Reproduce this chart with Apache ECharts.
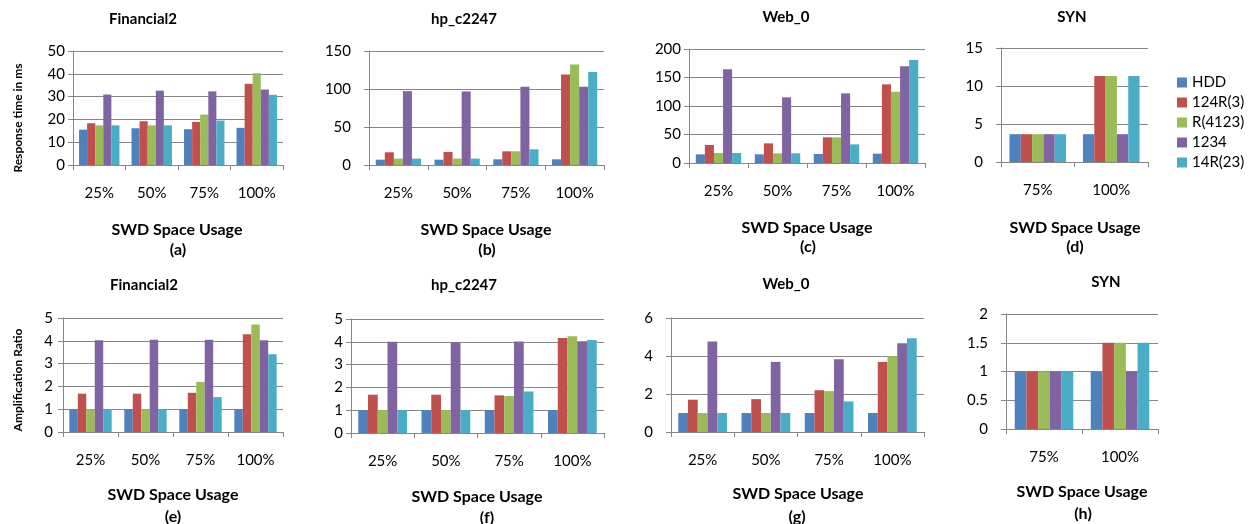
<!DOCTYPE html>
<html>
<head>
<meta charset="utf-8">
<style>
  html, body { margin: 0; padding: 0; background: #fff; }
  #chart { width: 1249px; height: 524px; }
</style>
<script src="https://cdn.jsdelivr.net/npm/echarts@6/dist/echarts.min.js"></script>
</head>
<body>
<div id="chart"></div>
<script>
// Categories and series names
const usageAll = ['25%', '50%', '75%', '100%'];
const usageHigh = ['75%', '100%'];
const schemes = ['HDD', '124R(3)', 'R(4123)', '1234', '14R(23)'];
const colors = ['#4F81BD', '#C0504D', '#9BBB59', '#8064A2', '#4BACC6'];

// Response time in ms, one row per scheme (HDD, 124R(3), R(4123), 1234, 14R(23))
const financial2Resp = [
  [15.5, 16.1, 15.7, 16.3],
  [18.3, 19.2, 18.9, 35.6],
  [17.4, 17.4, 22.1, 40.2],
  [30.9, 32.6, 32.3, 33.1],
  [17.4, 17.4, 19.5, 30.8]
];
const hpResp = [
  [7.0, 7.0, 7.5, 7.5],
  [16.7, 17.2, 18.0, 119.2],
  [8.4, 8.4, 18.0, 132.4],
  [97.2, 96.8, 103.0, 103.0],
  [8.4, 8.4, 20.7, 122.3]
];
const web0Resp = [
  [15.2, 15.2, 15.8, 16.4],
  [31.6, 34.5, 45.0, 138.0],
  [17.5, 17.0, 45.0, 125.0],
  [164.3, 115.2, 122.2, 169.6],
  [17.5, 17.0, 32.7, 180.7]
];
const synResp = [
  [3.66, 3.66],
  [3.66, 11.3],
  [3.66, 11.3],
  [3.66, 3.66],
  [3.66, 11.3]
];

// Amplification ratio
const financial2Amp = [
  [1.0, 1.0, 1.0, 1.0],
  [1.68, 1.68, 1.72, 4.29],
  [1.0, 1.0, 2.2, 4.71],
  [4.02, 4.05, 4.05, 4.02],
  [1.0, 1.0, 1.53, 3.41]
];
const hpAmp = [
  [1.0, 1.0, 1.0, 1.0],
  [1.68, 1.68, 1.65, 4.17],
  [1.0, 1.0, 1.62, 4.24],
  [4.0, 3.97, 4.01, 4.02],
  [1.0, 1.0, 1.82, 4.08]
];
const web0Amp = [
  [1.0, 1.0, 1.0, 1.0],
  [1.70, 1.73, 2.2, 3.69],
  [1.0, 1.0, 2.15, 3.99],
  [4.76, 3.69, 3.83, 4.67],
  [1.0, 1.0, 1.61, 4.93]
];
const synAmp = [
  [1.0, 1.0],
  [1.0, 1.5],
  [1.0, 1.5],
  [1.0, 1.0],
  [1.0, 1.5]
];

// Panel titles, sub-labels and y scales
const panelTitles = ['Financial2', 'hp_c2247', 'Web_0', 'SYN', 'Financial2', 'hp_c2247', 'Web_0', 'SYN'];
const panelTags = ['(a)', '(b)', '(c)', '(d)', '(e)', '(f)', '(g)', '(h)'];
const yMax = [50, 150, 200, 15, 5, 5, 6, 2];
const yStep = [10, 50, 50, 5, 1, 1, 2, 0.5];
const xName = 'SWD Space Usage';
const yNameTop = 'Response time in ms';
const yNameBottom = 'Amplification Ratio';

const panelData = [financial2Resp, hpResp, web0Resp, synResp, financial2Amp, hpAmp, web0Amp, synAmp];
const panelCats = [usageAll, usageAll, usageAll, usageHigh, usageAll, usageAll, usageAll, usageHigh];

// Layout of each panel
const layout = [
  { grid: [73, 51, 210, 114], title: [143, 19], xname: [177, 230], tag: [178, 250], lm: 8 },
  { grid: [369, 51, 235, 114], title: [464, 19], xname: [486, 230], tag: [487, 250], lm: 18 },
  { grid: [689, 49, 236, 114], title: [786, 17], xname: [807, 228], tag: [808, 247], lm: 8 },
  { grid: [1001, 48, 147, 114], title: [1072, 17], xname: [1075, 228], tag: [1075, 247], lm: 18 },
  { grid: [63, 318, 220, 114], title: [144, 285], xname: [173, 495], tag: [173, 517], lm: 10 },
  { grid: [351, 319, 253, 114], title: [464, 285], xname: [477, 497], tag: [487, 518], lm: 8 },
  { grid: [671, 318, 253, 114], title: [786, 284], xname: [798, 494], tag: [797, 517], lm: 18 },
  { grid: [1006, 314, 152, 115], title: [1106, 282], xname: [1082, 492], tag: [1083, 514], lm: 18 }
];

const FONT = 'Lato, "Open Sans", sans-serif';
const axisGray = '#868686';

const grids = [], xAxes = [], yAxes = [], series = [], graphics = [];

layout.forEach((p, i) => {
  const [l, t, w, h] = p.grid;
  grids.push({ left: l, top: t, width: w, height: h, containLabel: false });
  xAxes.push({
    type: 'category', gridIndex: i, data: panelCats[i],
    axisLine: { lineStyle: { color: axisGray, width: 1 } },
    axisTick: { show: true, length: 5, lineStyle: { color: axisGray } },
    axisLabel: { color: '#000', fontFamily: FONT, fontSize: 15, margin: 21 }
  });
  yAxes.push({
    type: 'value', gridIndex: i, min: 0, max: yMax[i], interval: yStep[i],
    axisLine: { show: true, lineStyle: { color: axisGray, width: 1 } },
    axisTick: { show: true, length: 5, lineStyle: { color: axisGray } },
    splitLine: { show: true, lineStyle: { color: axisGray, width: 1 } },
    axisLabel: { color: '#000', fontFamily: FONT, fontSize: 15, margin: p.lm }
  });
  panelData[i].forEach((vals, s) => {
    series.push({
      type: 'bar', name: schemes[s], xAxisIndex: i, yAxisIndex: i,
      data: vals, barGap: 0, barCategoryGap: '23%',
      itemStyle: { color: colors[s] },
      animation: false
    });
  });
  graphics.push({
    type: 'text', x: p.title[0], y: p.title[1],
    style: { text: panelTitles[i], align: 'center', verticalAlign: 'middle', font: 'bold 15px ' + FONT, fill: '#000' }
  });
  graphics.push({
    type: 'text', x: p.xname[0], y: p.xname[1],
    style: { text: xName, align: 'center', verticalAlign: 'middle', font: 'bold 16px ' + FONT, fill: '#000' }
  });
  graphics.push({
    type: 'text', x: p.tag[0], y: p.tag[1],
    style: { text: panelTags[i], align: 'center', verticalAlign: 'middle', font: 'bold 16px ' + FONT, fill: '#000' }
  });
});

// Rotated y-axis names for the left-hand panels
graphics.push({
  type: 'text', x: 18, y: 118, rotation: Math.PI / 2,
  style: { text: yNameTop, align: 'center', verticalAlign: 'middle', font: 'bold 12px ' + FONT, fill: '#000' }
});
graphics.push({
  type: 'text', x: 18, y: 380, rotation: Math.PI / 2,
  style: { text: yNameBottom, align: 'center', verticalAlign: 'middle', font: 'bold 12px ' + FONT, fill: '#000' }
});

const chart = echarts.init(document.getElementById('chart'), null, { renderer: 'canvas' });
chart.setOption({
  animation: false,
  backgroundColor: '#fff',
  grid: grids,
  xAxis: xAxes,
  yAxis: yAxes,
  series: series,
  graphic: graphics,
  legend: {
    data: schemes, orient: 'vertical', left: 1177, top: 75,
    itemWidth: 10, itemHeight: 10, itemGap: 5, icon: 'rect',
    padding: 0,
    textStyle: { fontFamily: FONT, fontSize: 15, color: '#000', padding: [0, 0, 0, 0] }
  }
});
</script>
</body>
</html>
